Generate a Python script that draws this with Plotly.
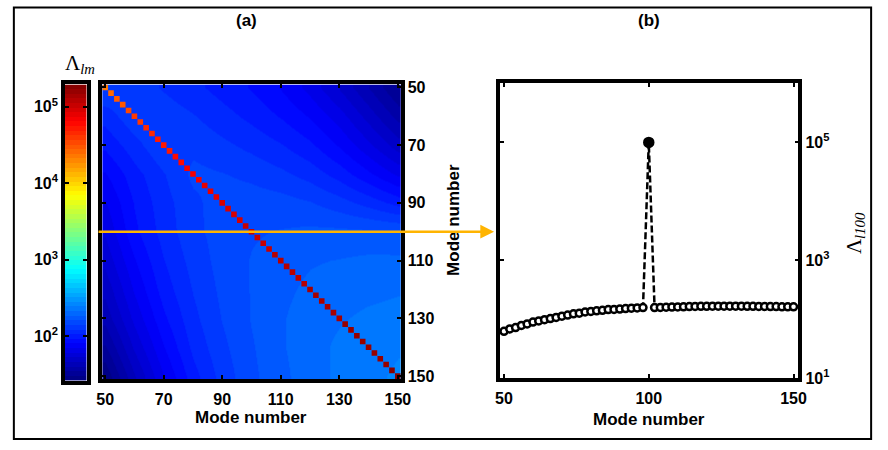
import numpy as np
import plotly.graph_objects as go

W, H = 888, 450

# Mode numbers (every second mode)
modes = list(range(50, 151, 2))

# Off-diagonal coupling strength Λ_lm on a coarse mode grid (rows: l, columns: m)
grid_modes = [50, 60, 70, 80, 90, 100, 110, 120, 130, 140, 150]
lam_grid = [
    [141, 132, 120, 110, 100,  91,  79,  66,  52,  40,  30],
    [112, 135, 132, 123, 112, 102,  91,  79,  65,  50,  38],
    [ 95, 115, 138, 135, 126, 117, 107,  95,  79,  63,  49],
    [ 79, 100, 120, 145, 141, 135, 126, 115, 100,  83,  68],
    [ 69,  93, 115, 135, 151, 151, 148, 141, 129, 115, 100],
    [ 62,  89, 112, 135, 148, 158, 162, 166, 166, 164, 162],
    [ 55,  79, 105, 129, 148, 162, 174, 182, 186, 191, 191],
    [ 48,  71,  98, 123, 145, 162, 178, 191, 200, 204, 209],
    [ 42,  63,  89, 117, 141, 162, 182, 200, 209, 219, 224],
    [ 34,  54,  79, 110, 135, 158, 182, 200, 219, 229, 240],
    [ 27,  45,  69, 100, 129, 155, 178, 200, 219, 234, 251],
]

# Diagonal entries Λ_mm, given as log10 values (m = 50, 52, ..., 150)
diag_log10 = [4.35, 4.40, 4.45, 4.49, 4.53, 4.57, 4.60, 4.63, 4.66, 4.69,
              4.72, 4.74, 4.77, 4.79, 4.81, 4.83, 4.85, 4.87, 4.89, 4.91,
              4.93, 4.94, 4.96, 4.97, 4.99, 5.00, 5.01, 5.02, 5.04, 5.05,
              5.06, 5.07, 5.08, 5.09, 5.10, 5.11, 5.12, 5.13, 5.14, 5.15,
              5.16, 5.17, 5.18, 5.18, 5.19, 5.20, 5.21, 5.21, 5.22, 5.23, 5.24]

# Row l = 100: Λ_l100 for m = 50..98 and m = 102..150
row100_left = [62, 68, 72, 78, 83, 89, 93, 98, 102, 107, 112, 117, 123,
               126, 132, 135, 138, 141, 145, 146, 148, 151, 153, 155, 157]
row100_right = [157, 158, 159, 160, 161, 162, 163, 164, 165, 165, 166, 166, 166,
                166, 166, 166, 165, 165, 164, 164, 163, 163, 162, 162, 162]

# Colour range (log10 of Λ)
CMIN, CMAX = 1.42, 5.29


def jet(t):
    r = min(max(1.5 - abs(4 * t - 3), 0), 1)
    g = min(max(1.5 - abs(4 * t - 2), 0), 1)
    b = min(max(1.5 - abs(4 * t - 1), 0), 1)
    return f"rgb({round(255 * r)},{round(255 * g)},{round(255 * b)})"


# 64-level stepped jet colour map
NLEV = 64
jet_steps = []
for i in range(NLEV):
    c = jet((i + 0.5) / NLEV)
    jet_steps.append([i / NLEV, c])
    jet_steps.append([(i + 1) / NLEV, c])

FONT = "Liberation Sans"
SERIF = "Liberation Serif"
tickfont = dict(family=FONT, size=16, color="black", weight="bold")

fig = go.Figure()

# (a) coupling matrix
fig.add_trace(go.Heatmap(
    x=grid_modes, y=grid_modes, z=np.log10(np.array(lam_grid, dtype=float)),
    zsmooth="best", colorscale=jet_steps, zmin=CMIN, zmax=CMAX,
    showscale=False, hoverinfo="skip", xaxis="x", yaxis="y"))

fig.add_trace(go.Scatter(
    x=modes, y=modes, mode="markers",
    marker=dict(symbol="square", size=5.6, color=diag_log10,
                colorscale=jet_steps, cmin=CMIN, cmax=CMAX,
                line=dict(width=0)),
    hoverinfo="skip", showlegend=False, xaxis="x", yaxis="y"))

# colour bar drawn as its own strip
levels = [CMIN + (i + 0.5) * (CMAX - CMIN) / NLEV for i in range(NLEV)]
fig.add_trace(go.Heatmap(
    x=[0], y=levels, z=[[v] for v in levels], colorscale=jet_steps,
    zmin=CMIN, zmax=CMAX, showscale=False, hoverinfo="skip",
    xaxis="x3", yaxis="y3"))

# (b) row l = 100
peak = 10 ** diag_log10[modes.index(100)]
row100 = row100_left + [peak] + row100_right
fills = ["#000000" if m == 100 else "#ffffff" for m in modes]
sizes = [9 if m == 100 else 7 for m in modes]
fig.add_trace(go.Scatter(
    x=modes, y=row100, mode="lines+markers",
    line=dict(color="#000000", width=2.5, dash="7px,3px"),
    marker=dict(symbol="circle", size=sizes, color=fills, opacity=1,
                line=dict(color="#000000", width=2.5)),
    hoverinfo="skip", showlegend=False, xaxis="x2", yaxis="y2"))


def px_x(p):
    return p / W


def px_y(p):
    return 1 - p / H


axis_common = dict(showline=True, linecolor="black", linewidth=3.5, mirror="ticks",
                   ticks="inside", ticklen=4, tickwidth=2, tickcolor="black",
                   showgrid=False, zeroline=False, tickfont=tickfont)

fig.update_layout(
    width=W, height=H, autosize=False,
    margin=dict(l=0, r=0, t=0, b=0),
    paper_bgcolor="white", plot_bgcolor="white",
    showlegend=False,
    xaxis=dict(domain=[px_x(98), px_x(402)], range=[49, 151],
               tickmode="array", tickvals=[50, 70, 90, 110, 130, 150],
               ticklabelstandoff=3, anchor="y", **axis_common),
    yaxis=dict(domain=[px_y(386), px_y(82)], range=[151, 49], side="right",
               tickmode="array", tickvals=[50, 70, 90, 110, 130, 150],
               anchor="x", **axis_common),
    xaxis2=dict(domain=[px_x(503), px_x(807)], range=[48.6, 151.7],
                tickmode="array", tickvals=[50, 100, 150],
                ticklabelstandoff=3, anchor="y2", **axis_common),
    yaxis2=dict(domain=[px_y(385), px_y(81)], type="log", range=[1, 6],
                side="right", tickmode="array", tickvals=[10, 1e3, 1e5],
                ticktext=["10<sup>1</sup>", "10<sup>3</sup>", "10<sup>5</sup>"],
                anchor="x2", **axis_common),
    xaxis3=dict(domain=[px_x(60), px_x(82)], range=[-0.5, 0.5],
                showline=True, linecolor="black", linewidth=3.5, mirror=True,
                ticks="", showticklabels=False, showgrid=False, zeroline=False,
                anchor="y3"),
    yaxis3=dict(domain=[px_y(388), px_y(82)], range=[CMIN, CMAX], side="left",
                tickmode="array", tickvals=[2, 3, 4, 5],
                ticktext=["10<sup>2</sup>", "10<sup>3</sup>", "10<sup>4</sup>", "10<sup>5</sup>"],
                anchor="x3", **axis_common),
)

label_font = dict(family=FONT, size=17, color="black", weight="bold")
annotations = [
    dict(x=px_x(245), y=px_y(16), text="(a)", font=label_font),
    dict(x=px_x(655), y=px_y(16), text="(b)", font=label_font),
    dict(x=px_x(250), y=px_y(426), text="Mode number", font=label_font),
    dict(x=px_x(655), y=px_y(428), text="Mode number", font=label_font),
    dict(x=px_x(455), y=px_y(222), text="Mode number", font=label_font,
         textangle=-90),
    dict(x=px_x(75), y=px_y(61), text="Λ<sub><i>lm</i></sub>",
         font=dict(family=SERIF, size=21, color="black")),
    dict(x=px_x(864), y=px_y(235), text="Λ<sub><i>l100</i></sub>",
         font=dict(family=SERIF, size=21, color="black"), textangle=-90),
]
for a in annotations:
    a.update(xref="paper", yref="paper", showarrow=False,
             xanchor="center", yanchor="middle")

# arrow marking row l = 100
annotations.append(dict(
    x=px_x(497), y=100, xref="paper", yref="y", text="",
    showarrow=True, ax=-397, ay=0, axref="pixel", ayref="pixel",
    arrowcolor="#FFB400", arrowwidth=2.5, arrowhead=2, arrowsize=1.1,
    standoff=0, startstandoff=0))

fig.update_layout(annotations=annotations)

# frame around the whole figure
fig.add_shape(type="rect", xref="paper", yref="paper",
              x0=px_x(8), x1=px_x(881), y0=px_y(448), y1=px_y(2.5),
              line=dict(color="black", width=2), fillcolor="rgba(0,0,0,0)")

fig.write_html("out.html")
